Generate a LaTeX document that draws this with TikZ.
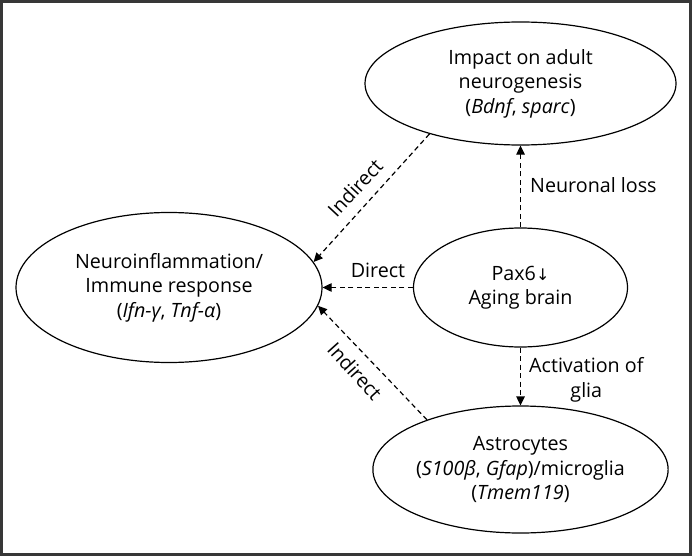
\documentclass[tikz,border=0pt]{standalone}
\usepackage{fontspec}
\setmainfont{Open Sans}
\newfontfamily\arrowfont{DejaVu Sans}
\usetikzlibrary{shapes.geometric,arrows.meta}
\definecolor{framegray}{RGB}{55,55,55}
\begin{document}
\begin{tikzpicture}[x=1pt,y=-1pt,
  ell/.style={draw,ellipse,line width=1.2pt,inner sep=0pt,align=center,
    font=\fontsize{19.7}{24.5}\selectfont},
  conn/.style={line width=1.2pt,dash pattern=on 5pt off 3.5pt,
    -{Triangle[length=9pt,width=8.5pt]}},
  lab/.style={font=\fontsize{19.7}{24.5}\selectfont,inner sep=0pt,align=center}]
\useasboundingbox (0,0) rectangle (692,556);
\draw[framegray,line width=2.6pt] (1.3,1.3) rectangle (690.7,554.7);

\node[ell,minimum width=311pt,minimum height=123pt] (imp) at (520.5,83.5)
  {Impact on adult\\neurogenesis\\(\textit{Bdnf}, \textit{sparc})};
\node[ell,minimum width=306pt,minimum height=150pt] (neu) at (169,287.5)
  {Neuroinflammation/\\Immune response\\(\textit{Ifn-γ}, \textit{Tnf-α})};
\node[ell,minimum width=214pt,minimum height=119pt] (pax) at (520.5,287.5)
  {Pax6{\arrowfont\fontsize{16}{16}\selectfont ↓}\\Aging brain};
\node[ell,minimum width=287pt,minimum height=127pt] (ast) at (520.5,469.5)
  {Astrocytes\\(\textit{S100β}, \textit{Gfap})/microglia\\(\textit{Tmem119})};

\draw[conn] (pax.north) -- (imp.south);
\draw[conn] (pax.south) -- (ast.north);
\draw[conn] (pax.west) -- (neu.east);
\draw[conn] (imp.209) -- (neu.10.5);
\draw[conn] (ast.152.6) -- (neu.-7);

\node[lab,anchor=west] (l1) at (530,185) {Neuronal loss};
\node[lab,anchor=west] (l2) at (529,380) {Activation of\\glia};
\node[lab] (l3) at (378,270) {Direct};
\node[lab,rotate=47] (l4) at (355,188) {Indirect};
\node[lab,rotate=-48] (l5) at (355,371) {Indirect};
\end{tikzpicture}
\end{document}
